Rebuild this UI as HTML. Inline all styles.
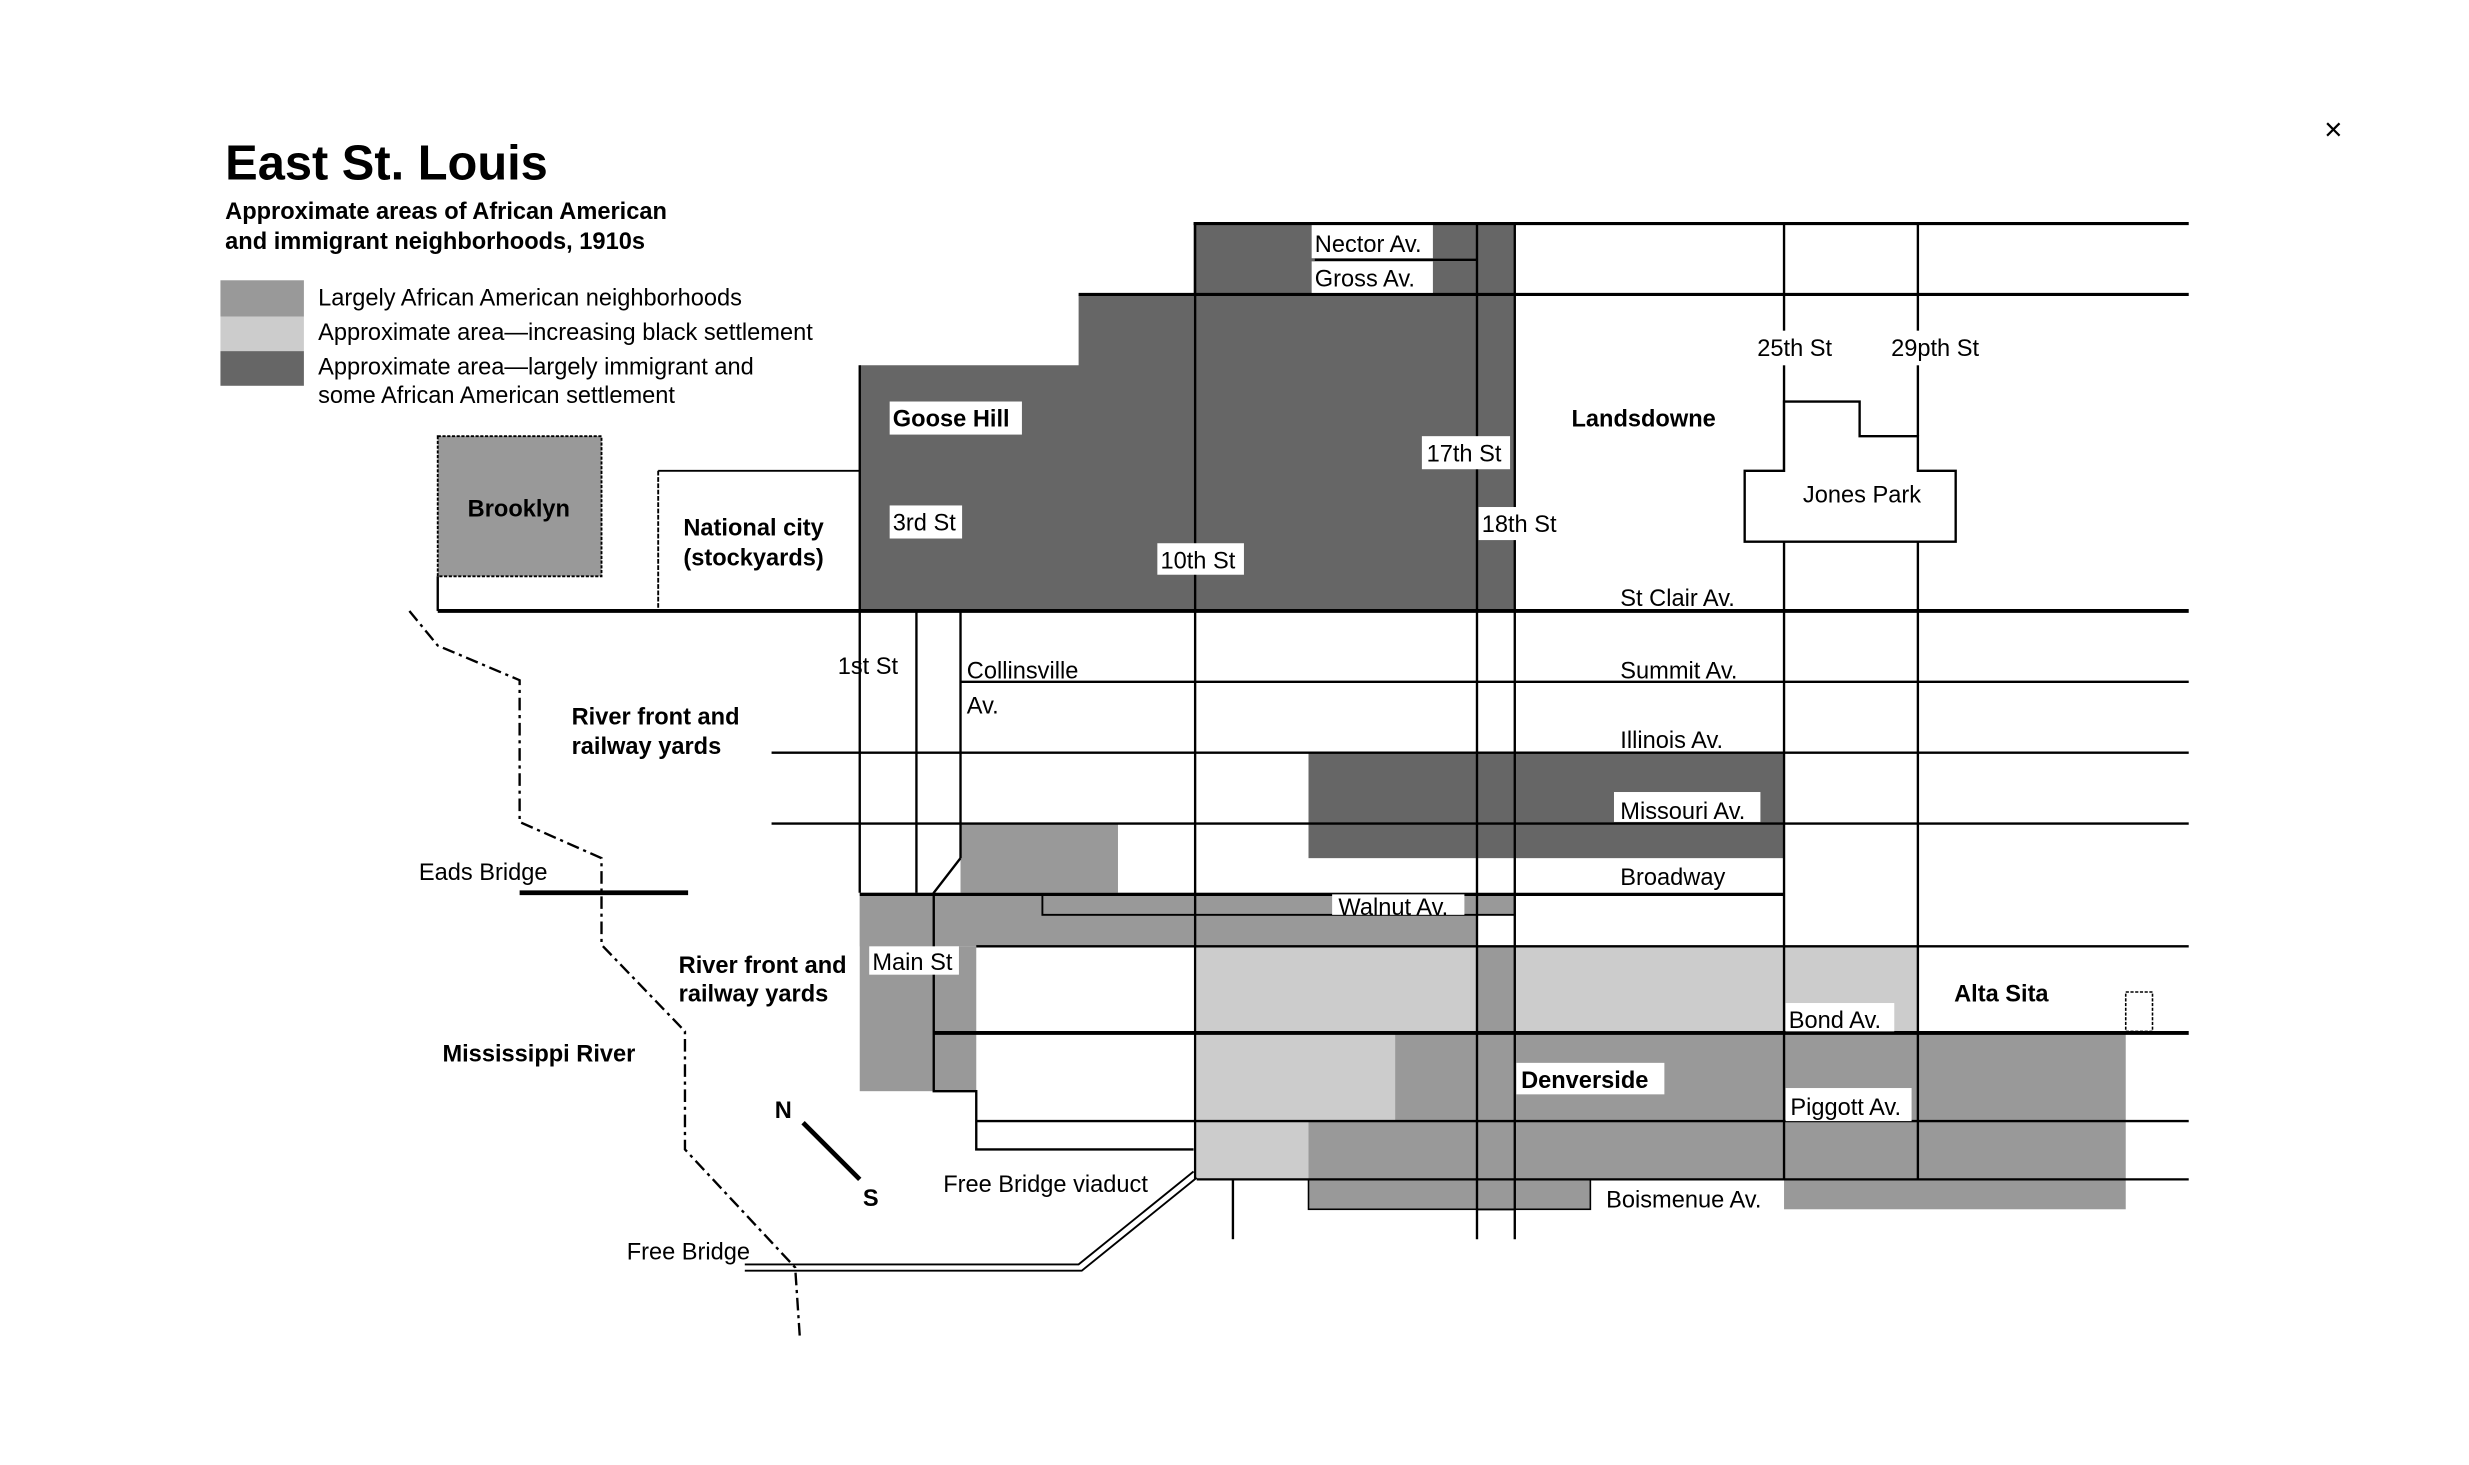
<!DOCTYPE html>
<html><head><meta charset="utf-8"><style>
html,body{margin:0;padding:0;background:#fff}
svg{display:block}
text{font-family:"Liberation Sans",Arial,sans-serif;font-size:15px;fill:#000}
.b{font-weight:bold}
</style></head><body>
<svg width="2469" height="1465" viewBox="0 0 1568 930.4" preserveAspectRatio="none" xmlns="http://www.w3.org/2000/svg">
<rect width="1568" height="931" fill="#fff"/>
<text x="143" y="114" class="b" style="font-size:31px">East St. Louis</text>
<text x="143" y="139" class="b" style="font-size:15px">Approximate areas of African American</text>
<text x="143" y="158" class="b" style="font-size:15px">and immigrant neighborhoods, 1910s</text>
<rect x="140" y="178" width="53" height="23" fill="#999"/>
<rect x="140" y="201" width="53" height="22" fill="#ccc"/>
<rect x="140" y="223" width="53" height="22" fill="#666"/>
<text x="202" y="194">Largely African American neighborhoods</text>
<text x="202" y="216">Approximate area—increasing black settlement</text>
<text x="202" y="238">Approximate area—largely immigrant and</text>
<text x="202" y="256">some African American settlement</text>
<text x="1476" y="89" style="font-size:20px">×</text>

<polygon points="546,388 546,232 685,232 685,187 758,187 758,142 962,142 962,388" fill="#666"/>
<rect x="831" y="478" width="302" height="67" fill="#666"/>
<rect x="278" y="277" width="104" height="89" fill="#999" stroke="#000" stroke-width="1.2" stroke-dasharray="2,1"/>
<rect x="610" y="523" width="100" height="44" fill="#999"/>
<rect x="546" y="567" width="392" height="34" fill="#999"/>
<rect x="546" y="567" width="47" height="126" fill="#999"/>
<rect x="593" y="601" width="27" height="92" fill="#999"/>
<rect x="760" y="601" width="458" height="55" fill="#ccc"/>
<rect x="760" y="656" width="126" height="56" fill="#ccc"/>
<rect x="760" y="712" width="71" height="37" fill="#ccc"/>
<rect x="938" y="601" width="24" height="55" fill="#999"/>
<rect x="886" y="656" width="464" height="56" fill="#999"/>
<rect x="831" y="712" width="519" height="37" fill="#999"/>
<rect x="938" y="749" width="24" height="20" fill="#999"/>
<rect x="831" y="749" width="179" height="19" fill="#999" stroke="#000" stroke-width="1"/>
<rect x="1133" y="749" width="217" height="19" fill="#999"/>
<rect x="662" y="568" width="300" height="13" fill="#999" stroke="#000" stroke-width="1.2"/>

<g stroke="#000" fill="none">
<line x1="758" y1="142" x2="1390" y2="142" stroke-width="2"/>
<line x1="685" y1="187" x2="1390" y2="187" stroke-width="2"/>
<line x1="278" y1="388" x2="1390" y2="388" stroke-width="2.5"/>
<line x1="610" y1="433" x2="1390" y2="433" stroke-width="1.5"/>
<line x1="490" y1="478" x2="1390" y2="478" stroke-width="1.5"/>
<line x1="490" y1="523" x2="1390" y2="523" stroke-width="1.5"/>
<line x1="546" y1="568" x2="1133" y2="568" stroke-width="2"/>
<line x1="620" y1="601" x2="1390" y2="601" stroke-width="1.5"/>
<line x1="593" y1="656" x2="1390" y2="656" stroke-width="2.5"/>
<line x1="620" y1="712" x2="1390" y2="712" stroke-width="1.5"/>
<line x1="760" y1="749" x2="1390" y2="749" stroke-width="1.5"/>
<line x1="835" y1="165" x2="938" y2="165" stroke-width="1.5"/>
<line x1="546" y1="232" x2="546" y2="567" stroke-width="1.5"/>
<line x1="582" y1="388" x2="582" y2="567" stroke-width="1.5"/>
<line x1="610" y1="388" x2="610" y2="545" stroke-width="1.5"/>
<polyline points="610,545 593,567 593,693 620,693 620,730 758,730" stroke-width="1.5"/>
<line x1="759" y1="142" x2="759" y2="749" stroke-width="1.5"/>
<line x1="938" y1="142" x2="938" y2="787" stroke-width="1.5"/>
<line x1="962" y1="142" x2="962" y2="787" stroke-width="1.5"/>
<line x1="1133" y1="142" x2="1133" y2="299" stroke-width="1.5"/>
<line x1="1218" y1="142" x2="1218" y2="277" stroke-width="1.5"/>
<line x1="1133" y1="344" x2="1133" y2="749" stroke-width="1.5"/>
<line x1="1218" y1="344" x2="1218" y2="749" stroke-width="1.5"/>
<line x1="783" y1="749" x2="783" y2="787" stroke-width="1.5"/>
<line x1="278" y1="366" x2="278" y2="388" stroke-width="1.5"/>
<line x1="418" y1="299" x2="546" y2="299" stroke-width="1.2"/>
<line x1="418" y1="299" x2="418" y2="388" stroke-width="1.2" stroke-dasharray="3,1"/>
<polygon points="1108,299 1133,299 1133,255 1181,255 1181,277 1218,277 1218,299 1242,299 1242,344 1108,344" fill="#fff" stroke-width="1.5"/>
<rect x="1350" y="630" width="17" height="25" stroke-width="1" stroke-dasharray="2,1"/>
<line x1="330" y1="567" x2="437" y2="567" stroke-width="3"/>
<polyline points="260,388 278,410 330,432 330,522 382,545 382,600 435,655 435,730 505,805 508,850" stroke-width="1.5" stroke-dasharray="8,3,2,3"/>
<polyline points="473,803 685,803 758,744" stroke-width="1.2"/>
<polyline points="473,807 687,807 760,748" stroke-width="1.2"/>
<line x1="510" y1="713" x2="546" y2="749" stroke-width="3"/>
</g>

<g fill="#fff">
<rect x="833" y="143" width="77" height="21"/>
<rect x="833" y="166" width="77" height="20"/>
<rect x="565" y="255" width="84" height="21"/>
<rect x="565" y="321" width="46" height="21"/>
<rect x="735" y="345" width="55" height="20"/>
<rect x="903" y="277" width="56" height="21"/>
<rect x="939" y="322" width="54" height="21"/>
<rect x="1025" y="503" width="93" height="19"/>
<rect x="846" y="568" width="84" height="13"/>
<rect x="552" y="601" width="57" height="18"/>
<rect x="963" y="675" width="94" height="20"/>
<rect x="1134" y="637" width="69" height="18"/>
<rect x="1134" y="691" width="80" height="21"/>
<rect x="1114" y="210" width="56" height="22"/>
<rect x="1199" y="210" width="64" height="22"/>
</g>

<text x="835" y="160">Nector Av.</text>
<text x="835" y="182">Gross Av.</text>
<text x="567" y="271" class="b">Goose Hill</text>
<text x="567" y="337">3rd St</text>
<text x="737" y="361">10th St</text>
<text x="906" y="293">17th St</text>
<text x="941" y="338">18th St</text>
<text x="998" y="271" class="b">Landsdowne</text>
<text x="1116" y="226">25th St</text>
<text x="1201" y="226">29pth St</text>
<text x="1145" y="319">Jones Park</text>
<text x="297" y="328" class="b">Brooklyn</text>
<text x="434" y="340" class="b">National city</text>
<text x="434" y="359" class="b">(stockyards)</text>
<text x="1029" y="385">St Clair Av.</text>
<text x="1029" y="431">Summit Av.</text>
<text x="1029" y="475">Illinois Av.</text>
<text x="1029" y="520">Missouri Av.</text>
<text x="1029" y="562">Broadway</text>
<text x="850" y="581">Walnut Av.</text>
<text x="532" y="428">1st St</text>
<text x="614" y="431">Collinsville</text>
<text x="614" y="453">Av.</text>
<text x="363" y="460" class="b">River front and</text>
<text x="363" y="479" class="b">railway yards</text>
<text x="266" y="559">Eads Bridge</text>
<text x="431" y="618" class="b">River front and</text>
<text x="431" y="636" class="b">railway yards</text>
<text x="554" y="616">Main St</text>
<text x="281" y="674" class="b">Mississippi River</text>
<text x="1241" y="636" class="b">Alta Sita</text>
<text x="1136" y="653">Bond Av.</text>
<text x="966" y="691" class="b">Denverside</text>
<text x="1137" y="708">Piggott Av.</text>
<text x="1020" y="767">Boismenue Av.</text>
<text x="599" y="757">Free Bridge viaduct</text>
<text x="398" y="800">Free Bridge</text>
<text x="492" y="710" class="b">N</text>
<text x="548" y="766" class="b">S</text>
</svg>
</body></html>
